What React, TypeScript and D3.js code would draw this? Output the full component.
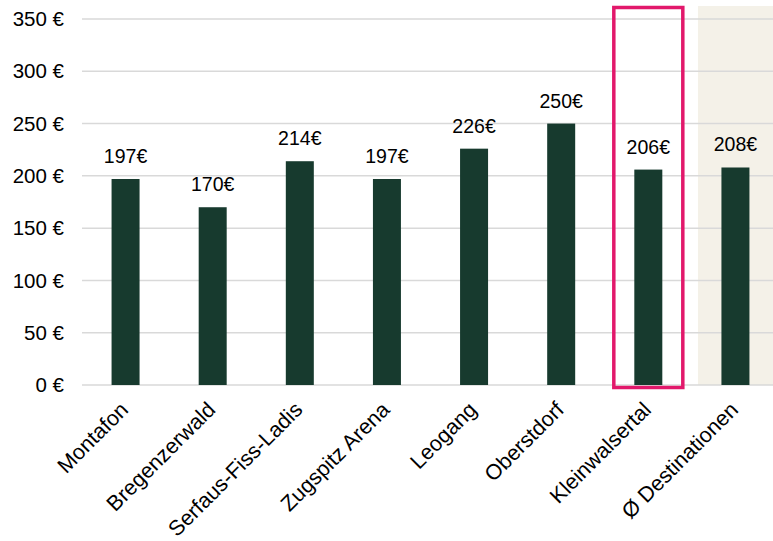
import React from "react";
import * as d3 from "d3";

const categories = [
  "Montafon",
  "Bregenzerwald",
  "Serfaus-Fiss-Ladis",
  "Zugspitz Arena",
  "Leogang",
  "Oberstdorf",
  "Kleinwalsertal",
  "Ø Destinationen",
];
const prices = [197, 170, 214, 197, 226, 250, 206, 208];
const yTicks = [0, 50, 100, 150, 200, 250, 300, 350];
const highlighted = "Kleinwalsertal";
const averageCategory = "Ø Destinationen";

const W = 773;
const H = 541;
const FONT = "'Liberation Sans', Arial, sans-serif";

export default function App() {
  const x = d3.scaleBand<string>().domain(categories).range([82, 779]).paddingInner(0).paddingOuter(0);
  const y = d3.scaleLinear().domain([0, 350]).range([385, 19]);
  const step = x.step();
  const barW = 28;

  const hx = (x(highlighted) as number) + step / 2;
  const ax = (x(averageCategory) as number) + step / 2;

  return (
    <svg
      width={W}
      height={H}
      style={{ position: "absolute", left: 0, top: 0, background: "#fff" }}
      fontFamily={FONT}
    >
      {/* average column background */}
      <rect x={ax - 37.5} y={6} width={75} height={y(0) - 6} fill="#f4f1e8" />

      {/* gridlines */}
      {yTicks.map((t) => (
        <line key={t} x1={82} x2={W} y1={y(t)} y2={y(t)} stroke="#d9d9d9" strokeWidth={1.5} />
      ))}

      {/* y tick labels */}
      {yTicks.map((t) => (
        <text key={t} x={64} y={y(t)} dy="0.35em" textAnchor="end" fontSize={20.5} fill="#000">
          {`${t} €`}
        </text>
      ))}

      {/* bars and value labels */}
      {categories.map((c, i) => {
        const cx = (x(c) as number) + step / 2;
        return (
          <g key={c}>
            <rect x={cx - barW / 2} y={y(prices[i])} width={barW} height={y(0) - y(prices[i])} fill="#173a2e" />
            <text x={cx} y={y(prices[i]) - 16} textAnchor="middle" fontSize={19.5} fill="#000">
              {`${prices[i]}€`}
            </text>
          </g>
        );
      })}

      {/* highlight frame */}
      <rect x={hx - 34.5} y={7.5} width={69} height={380} fill="none" stroke="#e2186b" strokeWidth={3.5} />

      {/* rotated category labels */}
      {categories.map((c) => {
        const cx = (x(c) as number) + step / 2;
        return (
          <text
            key={c}
            transform={`translate(${cx + 4},${411}) rotate(-45)`}
            textAnchor="end"
            fontSize={21.5}
            fill="#000"
          >
            {c}
          </text>
        );
      })}
    </svg>
  );
}
